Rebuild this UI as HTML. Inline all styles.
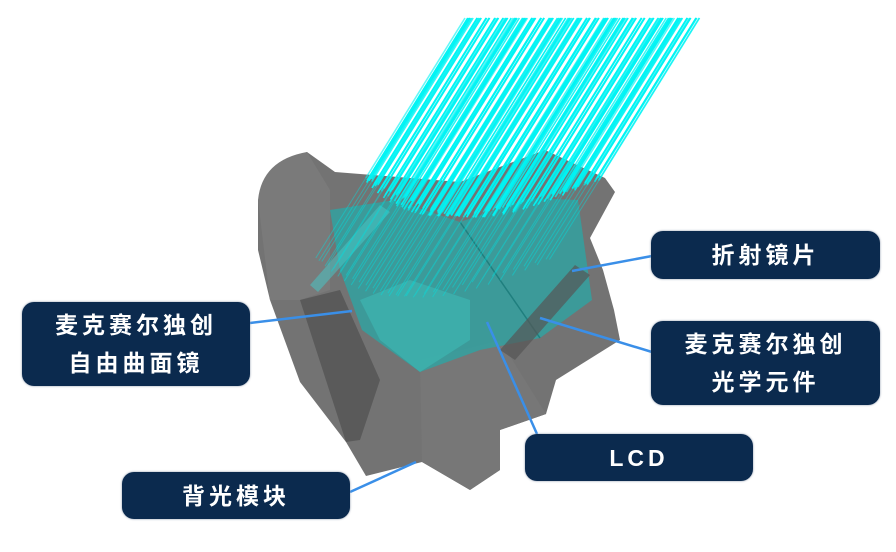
<!DOCTYPE html>
<html><head><meta charset="utf-8"><style>
html,body{margin:0;padding:0;background:#fff;}
body{width:896px;height:552px;position:relative;overflow:hidden;font-family:"Liberation Sans","Noto Sans CJK SC",sans-serif;}
.b{position:absolute;background:#0b2a4e;border-radius:12px;color:#fff;font-size:23px;font-weight:bold;letter-spacing:4px;display:flex;flex-direction:column;align-items:center;justify-content:center;line-height:38px;box-shadow:0 0 2px #8894a8;}
svg{position:absolute;left:0;top:0;}
</style></head><body>
<svg width="896" height="552" viewBox="0 0 896 552">
<polygon points="258,200 278,165 307,152 335,172 460,182 545,150 605,178 615,192 590,238 603,270 614,310 620,340 556,380 546,414 500,430 500,470 470,490 422,462 366,476 346,442 300,382 270,300 258,250" fill="#6b6b6b" opacity="0.95"/>
<path d="M258,200 Q262,160 307,152 L330,190 L330,290 L300,300 L270,300 Z" fill="#7a7a7a"/>
<polygon points="300,300 340,290 380,380 360,440 346,442" fill="#5a5a5a"/>
<polygon points="420,360 500,340 546,414 500,430 500,470 470,490 422,462" fill="#777"/>
<polygon points="330,210 395,200 460,222 530,198 578,200 592,300 540,338 480,350 420,372 362,330 340,270" fill="#2aa7a5" opacity="0.75"/>
<polygon points="360,300 410,280 470,300 470,340 420,372 380,340" fill="#3dbbb5" opacity="0.6"/>
<line x1="460" y1="222" x2="540" y2="338" stroke="#1f7f7e" stroke-width="1.5"/>
<polygon points="500,350 575,265 590,275 515,360" fill="#555" opacity="0.7"/>
<polygon points="310,285 380,205 390,212 318,292" fill="#4cc" opacity="0.5"/>
<g id="rays" stroke="#00f4f4" stroke-width="1.6"></g>
<g id="rays2" stroke="#00e0e0" stroke-width="1" opacity="0.45"></g>
<g stroke="#3a8fe8" stroke-width="2.5" fill="none">
<line x1="572" y1="271" x2="652" y2="256"/>
<line x1="352" y1="311" x2="250" y2="323"/>
<line x1="540" y1="318" x2="652" y2="352"/>
<line x1="487" y1="322" x2="537" y2="434"/>
<line x1="416" y1="462" x2="350" y2="492"/>
</g>
</svg>
<div class="b" style="left:651px;top:231px;width:229px;height:48px;">折射镜片</div>
<div class="b" style="left:22px;top:302px;width:228px;height:84px;"><span>麦克赛尔独创</span><span>自由曲面镜</span></div>
<div class="b" style="left:651px;top:321px;width:229px;height:84px;"><span>麦克赛尔独创</span><span>光学元件</span></div>
<div class="b" style="left:525px;top:434px;width:228px;height:47px;">LCD</div>
<div class="b" style="left:122px;top:472px;width:228px;height:47px;">背光模块</div>
<script>
(function(){
var ns="http://www.w3.org/2000/svg",g=document.getElementById("rays"),g2=document.getElementById("rays2");
var N=160;
for(var i=0;i<N;i++){
 var t=i/(N-1);
 var x1=465+t*235+(Math.sin(i*7.3)*4);
 // bottom follows bowl curve: x from ~355 to ~590
 var y2=178+Math.sin(t*3.14)*38+Math.sin(i*3.1)*4;
 var x2=x1-(y2-18)*0.62;
 var l=document.createElementNS(ns,"line");
 l.setAttribute("x1",x1);l.setAttribute("y1",18);l.setAttribute("x2",x2);l.setAttribute("y2",y2);
 l.setAttribute("opacity",(0.6+0.4*Math.abs(Math.sin(i*2.7))).toFixed(2));
 g.appendChild(l);
 if(i%3==0){var m=document.createElementNS(ns,"line");
 m.setAttribute("x1",x2);m.setAttribute("y1",y2);m.setAttribute("x2",x2-50);m.setAttribute("y2",y2+80);
 g2.appendChild(m);}
}
})();
</script>
</body></html>
